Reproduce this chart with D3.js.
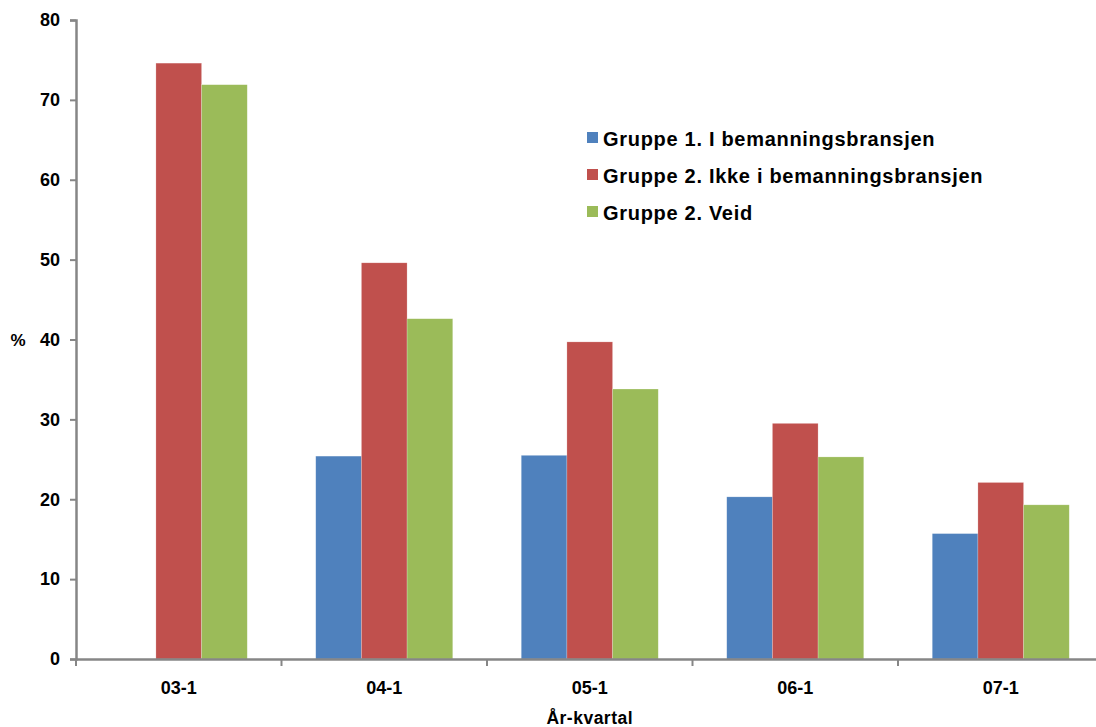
<!DOCTYPE html>
<html>
<head>
<meta charset="utf-8">
<script src="https://cdn.jsdelivr.net/npm/d3@7"></script>
<style>
  html, body { margin: 0; padding: 0; background: #fff; }
  svg { display: block; font-family: "Liberation Sans", Arial, sans-serif; font-weight: bold; }
</style>
</head>
<body>
<svg width="1096" height="727"></svg>
<script>
"use strict";

// data
var categories = ['03-1', '04-1', '05-1', '06-1', '07-1'];
var seriesNames = [
    'Gruppe 1. I bemanningsbransjen',
    'Gruppe 2. Ikke i bemanningsbransjen',
    'Gruppe 2. Veid'
];
var gruppe1 = [null, 25.4, 25.5, 20.3, 15.7];
var gruppe2 = [74.6, 49.6, 39.7, 29.5, 22.1];
var gruppe2Veid = [71.9, 42.6, 33.8, 25.3, 19.3];
var yTicks = [0, 10, 20, 30, 40, 50, 60, 70, 80];

var colors = ['#4F81BD', '#C0504D', '#9BBB59'];
var seriesValues = [gruppe1, gruppe2, gruppe2Veid];

var svg = d3.select('svg');

var plotLeft = 76, plotTop = 20, plotBottom = 659;
var bandW = 205.5;

var x = d3.scaleBand()
    .domain(categories)
    .range([plotLeft, plotLeft + bandW * categories.length])
    .padding(0);

var xInner = d3.scaleBand()
    .domain(d3.range(seriesNames.length))
    .range([0, x.bandwidth()])
    .paddingInner(0)
    .paddingOuter(0.75);

var y = d3.scaleLinear()
    .domain([0, 80])
    .range([plotBottom, plotTop]);

// bars
var rows = [];
categories.forEach((c, i) => {
    seriesValues.forEach((vals, s) => {
        if (vals[i] != null) rows.push({ cat: c, s: s, v: vals[i] });
    });
});

svg.append('g')
    .selectAll('rect')
    .data(rows)
    .enter()
    .append('rect')
    .attr('x', d => x(d.cat) + xInner(d.s))
    .attr('y', d => y(d.v))
    .attr('width', xInner.bandwidth())
    .attr('height', d => y(0) - y(d.v))
    .attr('fill', d => colors[d.s])
    .attr('stroke', 'rgba(255,255,255,0.35)')
    .attr('stroke-width', 0.6);

// y axis
var yAxis = svg.append('g')
    .attr('transform', `translate(${plotLeft},0)`)
    .call(d3.axisLeft(y).tickValues(yTicks).tickSize(6).tickPadding(10));

yAxis.selectAll('text')
    .attr('font-size', 18)
    .attr('font-family', '"Liberation Sans", Arial, sans-serif')
    .attr('font-weight', 'bold')
    .attr('fill', '#000');

// x axis
var xAxis = svg.append('g')
    .attr('transform', `translate(0,${plotBottom})`)
    .call(d3.axisBottom(x).tickSize(0).tickPadding(22));

xAxis.selectAll('text')
    .attr('font-size', 18)
    .attr('font-family', '"Liberation Sans", Arial, sans-serif')
    .attr('font-weight', 'bold')
    .attr('fill', '#000');

// tick marks between categories
xAxis.selectAll('.sep')
    .data(categories)
    .enter()
    .append('line')
    .attr('class', 'sep')
    .attr('x1', d => x(d))
    .attr('x2', d => x(d))
    .attr('y1', 0)
    .attr('y2', 7)
    .attr('stroke', '#868686')
    .attr('stroke-width', 2);

svg.selectAll('.domain, .tick line')
    .attr('stroke', '#868686')
    .attr('stroke-width', 2.5);

svg.selectAll('.tick line').attr('stroke-width', 2);

// axis titles
svg.append('text')
    .attr('x', 18)
    .attr('y', y(40) + 6)
    .attr('text-anchor', 'middle')
    .attr('font-size', 17)
    .text('%');

svg.append('text')
    .attr('x', plotLeft + bandW * categories.length / 2)
    .attr('y', 724)
    .attr('text-anchor', 'middle')
    .attr('font-size', 17.5)
    .attr('letter-spacing', 0.5)
    .text('År-kvartal');

// legend
var legend = svg.append('g')
    .attr('transform', 'translate(587,146)');

var item = legend.selectAll('g')
    .data(seriesNames)
    .enter()
    .append('g')
    .attr('transform', (d, i) => `translate(0,${i * 37})`);

item.append('rect')
    .attr('x', 0)
    .attr('y', -14)
    .attr('width', 11)
    .attr('height', 11)
    .attr('fill', (d, i) => colors[i]);

item.append('text')
    .attr('x', 16)
    .attr('y', 0)
    .attr('font-size', 20)
    .attr('letter-spacing', 0.7)
    .text(d => d);
</script>
</body>
</html>
